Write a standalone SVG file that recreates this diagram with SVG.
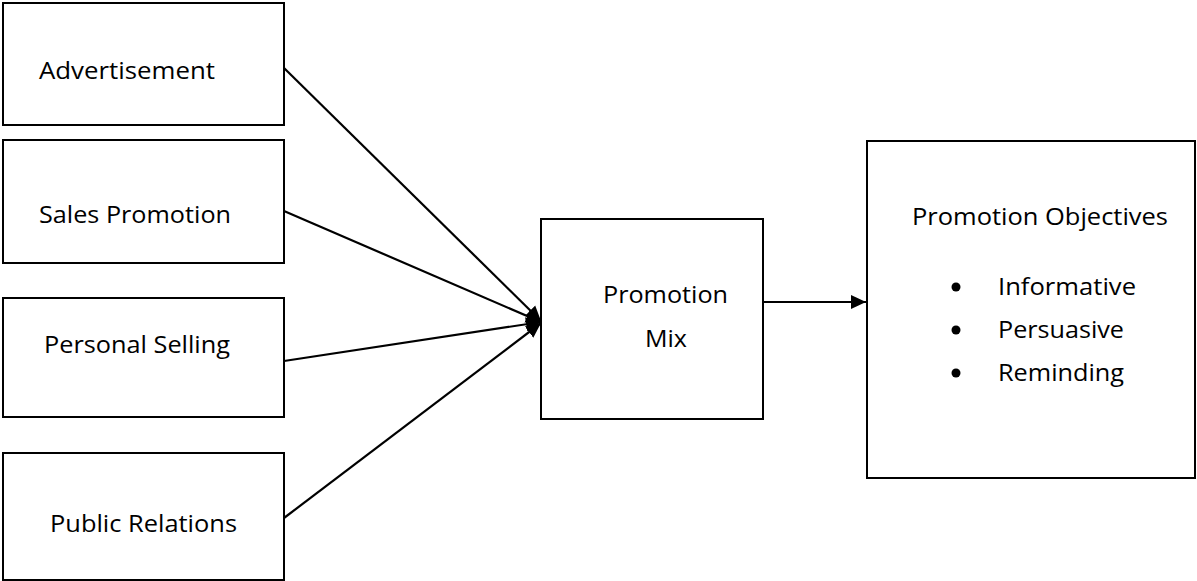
<svg xmlns="http://www.w3.org/2000/svg" width="1197" height="581" viewBox="0 0 1197 581">
<style>
.box{fill:#fff;stroke:#000;stroke-width:2}
.t{font-family:"Open Sans","Liberation Sans",sans-serif;font-size:24px;fill:#000}
.c{stroke:#000;stroke-width:2.2;fill:none}
</style>
<defs>
<marker id="ah" markerUnits="userSpaceOnUse" markerWidth="16" markerHeight="16" viewBox="0 0 16 16" refX="15" refY="8" orient="auto">
<path d="M0,1 L15,8 L0,15 z" fill="#000"/>
</marker>
</defs>
<rect width="1197" height="581" fill="#fff"/>
<g id="connectors">
<line class="c" x1="284" y1="68" x2="541" y2="321" marker-end="url(#ah)"/>
<line class="c" x1="284" y1="211" x2="541" y2="322" marker-end="url(#ah)"/>
<line class="c" x1="284" y1="361" x2="541" y2="322" marker-end="url(#ah)" stroke-width="3"/>
<line class="c" x1="284" y1="518" x2="541" y2="323" marker-end="url(#ah)"/>
<line class="c" x1="763" y1="302" x2="866" y2="302" marker-end="url(#ah)"/>
</g>
<g id="advertisement">
<rect class="box" x="3" y="3" width="281" height="122"/>
<text class="t" x="39" y="79" textLength="176" lengthAdjust="spacingAndGlyphs">Advertisement</text>
</g>
<g id="sales-promotion">
<rect class="box" x="3" y="140" width="281" height="123"/>
<text class="t" x="39" y="223" textLength="192" lengthAdjust="spacingAndGlyphs">Sales Promotion</text>
</g>
<g id="personal-selling">
<rect class="box" x="3" y="298" width="281" height="119"/>
<text class="t" x="44" y="353" textLength="186" lengthAdjust="spacingAndGlyphs">Personal Selling</text>
</g>
<g id="public-relations">
<rect class="box" x="3" y="453" width="281" height="127"/>
<text class="t" x="50" y="532" textLength="187" lengthAdjust="spacingAndGlyphs">Public Relations</text>
</g>
<g id="promotion-mix">
<rect class="box" x="541" y="219" width="222" height="200"/>
<text class="t" x="603" y="303" textLength="125" lengthAdjust="spacingAndGlyphs">Promotion</text>
<text class="t" x="645" y="347" textLength="42" lengthAdjust="spacingAndGlyphs">Mix</text>
</g>
<g id="promotion-objectives">
<rect class="box" x="867" y="141" width="328" height="337"/>
<text class="t" x="912" y="225" textLength="256" lengthAdjust="spacingAndGlyphs">Promotion Objectives</text>
<circle cx="956" cy="287" r="4.5"/>
<circle cx="956" cy="330" r="4.5"/>
<circle cx="956" cy="373" r="4.5"/>
<text class="t" x="998" y="295" textLength="138" lengthAdjust="spacingAndGlyphs">Informative</text>
<text class="t" x="998" y="338" textLength="126" lengthAdjust="spacingAndGlyphs">Persuasive</text>
<text class="t" x="998" y="381" textLength="126" lengthAdjust="spacingAndGlyphs">Reminding</text>
</g>
</svg>
